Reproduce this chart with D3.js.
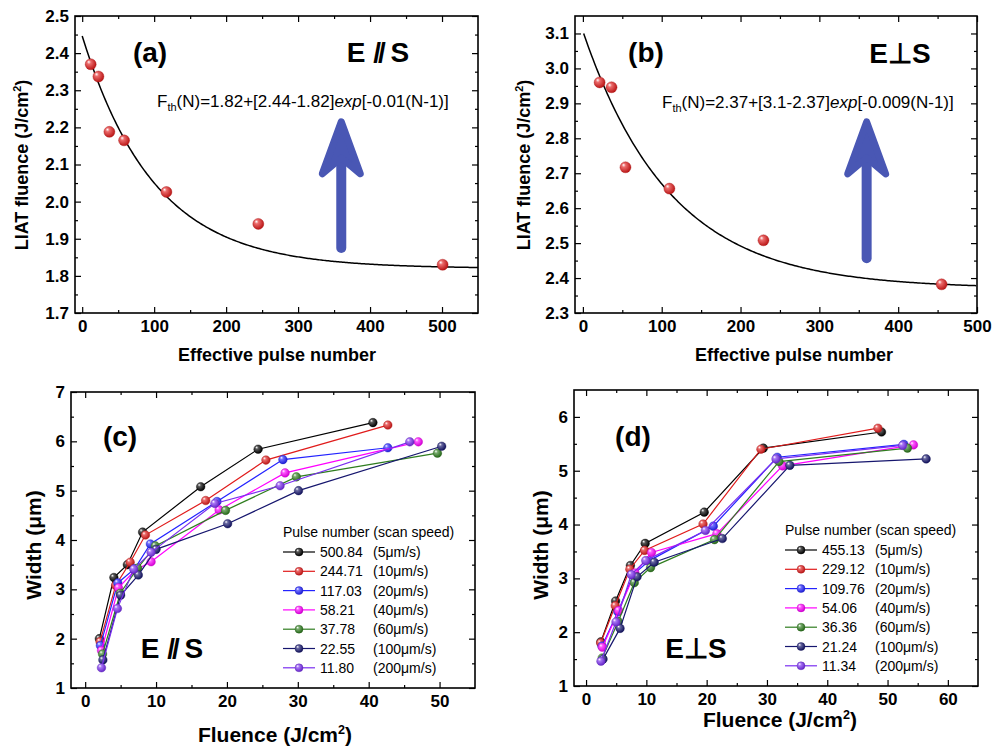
<!DOCTYPE html>
<meta charset="utf-8">
<style>
body { margin: 0; background: #fff; }
svg { font-family: "Liberation Sans", Arial, sans-serif; background: #fff; }
.axis path { display: none; }
.axis .tick line { stroke: #000; stroke-width: 1.2; }
.axis .tick text { font-weight: bold; font-size: 17px; fill: #000; }
.frame { fill: none; stroke: #000; stroke-width: 1.6; }
.title { font-weight: bold; fill: #000; }
.legend text { font-size: 14px; fill: #000; }
</style>
<svg width="995" height="750"></svg>
<script src="https://cdn.jsdelivr.net/npm/d3@7"></script>
<script>

// ---- data ----
// (a) E // S threshold fluence vs effective pulse number
var pulseA = [11.80, 22.55, 37.78, 58.21, 117.03, 244.71, 500.84];
var liatA = [2.37, 2.337, 2.188, 2.165, 2.026, 1.94, 1.83];
var fitA = [1.82, 2.44, 0.01];      // F_inf, F_1, k
// (b) E perp S
var pulseB = [21.24, 36.36, 54.06, 109.76, 229.12, 455.13];
var liatB = [2.96, 2.946, 2.717, 2.656, 2.508, 2.382];
var fitB = [2.37, 3.1, 0.009];

// legend / series labels
var speeds = ["5", "10", "20", "40", "60", "100", "200"];
var pulsesC = ["500.84", "244.71", "117.03", "58.21", "37.78", "22.55", "11.80"];
var pulsesD = ["455.13", "229.12", "109.76", "54.06", "36.36", "21.24", "11.34"];
var seriesColors = ["#000000", "#e01b1b", "#2323ff", "#ff00ff", "#2f7d1f", "#16166e", "#7a2ef0"];

// (c) width vs fluence, E // S  (one row per scan speed)
var fluenceC = [
    [2.0, 4.05, 5.95, 8.1, 16.3, 24.4, 40.6],
    [2.1, 4.3, 6.35, 8.5, 17.0, 25.5, 42.7],
    [2.15, 4.6, 7.0, 9.2, 18.6, 27.9, 42.7],
    [2.3, 4.7, 7.0, 9.3, 18.9, 28.2, 47.0],
    [2.45, 4.95, 7.4, 9.9, 19.8, 29.8, 49.7],
    [2.5, 5.0, 7.5, 10.0, 20.1, 30.1, 50.3],
    [2.3, 4.55, 6.85, 9.3, 18.3, 27.5, 45.8]
];
var widthC = [
    [2.0, 3.24, 3.5, 4.16, 5.08, 5.84, 6.38],
    [1.94, 3.08, 3.55, 4.1, 4.8, 5.62, 6.33],
    [1.86, 3.13, 3.42, 3.92, 4.78, 5.63, 5.87],
    [1.76, 3.03, 3.38, 3.56, 4.61, 5.36, 5.99],
    [1.69, 2.92, 3.43, 3.88, 4.6, 5.28, 5.76],
    [1.57, 2.88, 3.29, 3.81, 4.33, 5.0, 5.9],
    [1.41, 2.61, 3.41, 3.75, 4.74, 5.1, 5.99]
];
// (d) width vs fluence, E perp S
var fluenceD = [
    [2.45, 4.9, 7.35, 9.8, 19.6, 29.4, 49.0],
    [2.42, 4.84, 7.26, 9.7, 19.4, 29.0, 48.4],
    [2.64, 5.27, 7.9, 10.5, 21.1, 31.7, 52.7],
    [2.71, 5.4, 8.1, 10.85, 21.7, 32.6, 54.3],
    [2.67, 5.33, 8.0, 10.7, 21.3, 32.0, 53.3],
    [2.82, 5.64, 8.46, 11.3, 22.6, 33.8, 56.4],
    [2.47, 4.96, 7.5, 9.9, 19.8, 31.5, 52.5]
];
var widthD = [
    [1.82, 2.58, 3.24, 3.65, 4.23, 5.42, 5.72],
    [1.80, 2.49, 3.17, 3.52, 4.01, 5.40, 5.79],
    [1.74, 2.38, 3.08, 3.33, 3.97, 5.25, 5.49],
    [1.72, 2.40, 3.10, 3.48, 3.83, 5.09, 5.48],
    [1.52, 2.20, 2.92, 3.20, 3.72, 5.17, 5.42],
    [1.50, 2.07, 3.03, 3.30, 3.74, 5.10, 5.22],
    [1.46, 2.19, 3.07, 3.33, 3.89, 5.22, 5.47]
];

// tick labels
var ticksAx = [0, 100, 200, 300, 400, 500];
var ticksAy = [1.7, 1.8, 1.9, 2.0, 2.1, 2.2, 2.3, 2.4, 2.5];
var ticksBy = [2.3, 2.4, 2.5, 2.6, 2.7, 2.8, 2.9, 3.0, 3.1];
var ticksCx = [0, 10, 20, 30, 40, 50];
var ticksCy = [1, 2, 3, 4, 5, 6, 7];
var ticksDx = [0, 10, 20, 30, 40, 50, 60];
var ticksDy = [1, 2, 3, 4, 5, 6];

// ---- drawing ----
var svg = d3.select("svg");
var defs = svg.append("defs");

seriesColors.forEach(function(c, i) {
    var gr = defs.append("radialGradient").attr("id", "ball" + i)
        .attr("cx", "0.4").attr("cy", "0.4").attr("r", "0.6")
        .attr("fx", "0.32").attr("fy", "0.28");
    gr.append("stop").attr("offset", "0").attr("stop-color", "#fff");
    gr.append("stop").attr("offset", "0.3").attr("stop-color", d3.interpolateRgb(c, "#fff")(0.35));
    gr.append("stop").attr("offset", "1").attr("stop-color", d3.color(c).darker(0.5));
});

function minors(ticks, dom) {
    var step = ticks[1] - ticks[0];
    return d3.range(ticks[0] - step / 2, dom[1], step)
        .filter(function(v) { return v > dom[0] + 1e-9 && v < dom[1] - 1e-9; });
}

function panel(p) {
    var x = d3.scaleLinear().domain(p.xDom).range([p.left, p.right]);
    var y = d3.scaleLinear().domain(p.yDom).range([p.bottom, p.top]);
    var g = svg.append("g");
    var xm = minors(p.xTicks, p.xDom), ym = minors(p.yTicks, p.yDom);

    g.append("g").attr("class", "axis").attr("transform", "translate(0," + p.bottom + ")")
        .call(d3.axisBottom(x).tickValues(p.xTicks).tickSize(-6).tickSizeOuter(0).tickPadding(7).tickFormat(p.xFmt));
    g.append("g").attr("class", "axis").attr("transform", "translate(0," + p.bottom + ")")
        .call(d3.axisBottom(x).tickValues(xm).tickSize(-3).tickSizeOuter(0).tickFormat(""));
    g.append("g").attr("class", "axis").attr("transform", "translate(0," + p.top + ")")
        .call(d3.axisTop(x).tickValues(p.xTicks).tickSize(-6).tickSizeOuter(0).tickFormat(""));
    g.append("g").attr("class", "axis").attr("transform", "translate(0," + p.top + ")")
        .call(d3.axisTop(x).tickValues(xm).tickSize(-3).tickSizeOuter(0).tickFormat(""));

    g.append("g").attr("class", "axis").attr("transform", "translate(" + p.left + ",0)")
        .call(d3.axisLeft(y).tickValues(p.yTicks).tickSize(-6).tickSizeOuter(0).tickPadding(6).tickFormat(p.yFmt));
    g.append("g").attr("class", "axis").attr("transform", "translate(" + p.left + ",0)")
        .call(d3.axisLeft(y).tickValues(ym).tickSize(-3).tickSizeOuter(0).tickFormat(""));
    g.append("g").attr("class", "axis").attr("transform", "translate(" + p.right + ",0)")
        .call(d3.axisRight(y).tickValues(p.yTicks).tickSize(-6).tickSizeOuter(0).tickFormat(""));
    g.append("g").attr("class", "axis").attr("transform", "translate(" + p.right + ",0)")
        .call(d3.axisRight(y).tickValues(ym).tickSize(-3).tickSizeOuter(0).tickFormat(""));

    g.append("rect").attr("class", "frame")
        .attr("x", p.left).attr("y", p.top)
        .attr("width", p.right - p.left).attr("height", p.bottom - p.top);
    return { g: g, x: x, y: y };
}

function ball(g, cx, cy, r, i) {
    g.append("circle").attr("cx", cx).attr("cy", cy).attr("r", r)
        .attr("fill", "url(#ball" + i + ")")
        .attr("stroke", d3.color(seriesColors[i]).darker(0.8)).attr("stroke-width", 0.4);
}

// text with optional "²)" ending
function title(x, y, size, txt, sup, rotate) {
    var t = svg.append("text").attr("class", "title")
        .attr("text-anchor", "middle").attr("font-size", size);
    if (rotate) t.attr("transform", "translate(" + x + "," + y + ") rotate(-90)").attr("dy", "0.36em");
    else t.attr("x", x).attr("y", y);
    t.append("tspan").text(txt);
    if (sup) {
        t.append("tspan").attr("font-size", size * 0.6).attr("dy", -size * 0.4).text("2");
        t.append("tspan").attr("dy", size * 0.4).text(")");
    }
}

function formula(x, y, f) {
    var t = svg.append("text").attr("x", x).attr("y", y).attr("font-size", 17).attr("fill", "#000");
    t.append("tspan").text("F");
    t.append("tspan").attr("font-size", 11).attr("dy", 4).text("th");
    t.append("tspan").attr("dy", -4).text("(N)=" + f[0] + "+[" + f[1] + "-" + f[0] + "]");
    t.append("tspan").attr("font-style", "italic").text("exp");
    t.append("tspan").text("[-" + f[2] + "(N-1)]");
}

function arrow(g, x, y0, y1) {
    var col = "#4957b4";
    g.append("line").attr("x1", x).attr("x2", x).attr("y1", y0).attr("y2", y1 + 10)
        .attr("stroke", col).attr("stroke-width", 10).attr("stroke-linecap", "round");
    g.append("path")
        .attr("d", "M" + x + "," + y1 + " L" + (x + 19) + "," + (y1 + 52) +
            " L" + x + "," + (y1 + 36) + " L" + (x - 19) + "," + (y1 + 52) + " Z")
        .attr("fill", col).attr("stroke", col).attr("stroke-width", 7).attr("stroke-linejoin", "round");
}

function tag(x, y, size, txt) {
    svg.append("text").attr("class", "title").attr("x", x).attr("y", y)
        .attr("text-anchor", "middle").attr("font-size", size).text(txt);
}

function paraTag(x, y) {
    var t = svg.append("text").attr("class", "title").attr("x", x).attr("y", y)
        .attr("text-anchor", "middle").attr("font-size", 28);
    t.append("tspan").text("E ");
    t.append("tspan").attr("letter-spacing", "-3").text("//");
    t.append("tspan").text("  S");
}

function fitLine(pan, f, n0, n1) {
    var pts = d3.range(n0, n1 + 1, 2).map(function(n) { return [n, f[0] + (f[1] - f[0]) * Math.exp(-f[2] * (n - 1))]; });
    pan.g.append("path").datum(pts)
        .attr("d", d3.line().x(function(d) { return pan.x(d[0]); }).y(function(d) { return pan.y(d[1]); }))
        .attr("fill", "none").attr("stroke", "#000").attr("stroke-width", 1.5);
}

// ---- panel (a) ----
var pa = panel({ left: 75, right: 478, top: 16, bottom: 313, xDom: [-10, 550], yDom: [1.7, 2.5],
    xTicks: ticksAx, yTicks: ticksAy, xFmt: d3.format("d"), yFmt: d3.format(".1f") });
fitLine(pa, fitA, 0, 550);
pulseA.forEach(function(n, i) { ball(pa.g, pa.x(n), pa.y(liatA[i]), 5.5, 1); });
arrow(pa.g, pa.x(360), pa.y(1.875), pa.y(2.215));
tag(150, 62, 28, "(a)");
paraTag(378, 62);
formula(157, 107, fitA);
title(22, 165, 18, "LIAT fluence (J/cm", true, true);
title(277, 361, 18, "Effective pulse number", false, false);

// ---- panel (b) ----
var pb = panel({ left: 575, right: 977, top: 16, bottom: 313, xDom: [-10, 500], yDom: [2.3, 3.15],
    xTicks: ticksAx, yTicks: ticksBy, xFmt: d3.format("d"), yFmt: d3.format(".1f") });
fitLine(pb, fitB, 1, 500);
pulseB.forEach(function(n, i) { ball(pb.g, pb.x(n), pb.y(liatB[i]), 5.5, 1); });
arrow(pb.g, pb.x(360), pb.y(2.457), pb.y(2.847));
tag(646, 62, 28, "(b)");
tag(900, 63, 28, "E\u22a5S");
formula(662, 108, fitB);
title(524, 165, 18, "LIAT fluence (J/cm", true, true);
title(794, 361, 18, "Effective pulse number", false, false);

// ---- panels (c), (d) ----
function widthPanel(p, fl, wd, pulses, lx, ly) {
    var pan = panel(p);
    var line = d3.line().x(function(d) { return pan.x(d[0]); }).y(function(d) { return pan.y(d[1]); });
    fl.forEach(function(xs, i) {
        var pts = xs.map(function(v, j) { return [v, wd[i][j]]; });
        pan.g.append("path").datum(pts).attr("d", line)
            .attr("fill", "none").attr("stroke", seriesColors[i]).attr("stroke-width", 1.2);
        pts.forEach(function(d) { ball(pan.g, pan.x(d[0]), pan.y(d[1]), 4.3, i); });
    });
    var lg = svg.append("g").attr("class", "legend");
    lg.append("text").attr("x", lx).attr("y", ly).text("Pulse number (scan speed)");
    pulses.forEach(function(s, i) {
        var yy = ly + 15 + i * 19.3;
        lg.append("line").attr("x1", lx).attr("x2", lx + 32).attr("y1", yy).attr("y2", yy)
            .attr("stroke", seriesColors[i]).attr("stroke-width", 1.2);
        ball(lg, lx + 16, yy, 4, i);
        lg.append("text").attr("x", lx + 37).attr("y", yy + 5).text(s);
        lg.append("text").attr("x", lx + 90).attr("y", yy + 5).text("(" + speeds[i] + "\u03bcm/s)");
    });
    return pan;
}

widthPanel({ left: 71, right: 475, top: 392, bottom: 688, xDom: [-2, 55], yDom: [1, 7],
    xTicks: ticksCx, yTicks: ticksCy, xFmt: d3.format("d"), yFmt: d3.format("d") },
    fluenceC, widthC, pulsesC, 283, 537);
tag(120, 446, 28, "(c)");
paraTag(172, 658);
title(33, 545, 21, "Width (\u03bcm)", false, true);
title(275, 742, 21, "Fluence (J/cm", true, false);

widthPanel({ left: 574, right: 978, top: 390, bottom: 686, xDom: [-2, 65], yDom: [1, 6.5],
    xTicks: ticksDx, yTicks: ticksDy, xFmt: d3.format("d"), yFmt: d3.format("d") },
    fluenceD, widthD, pulsesD, 785, 535);
tag(633, 446, 28, "(d)");
tag(696, 658, 28, "E\u22a5S");
title(540, 545, 21, "Width (\u03bcm)", false, true);
title(780, 727, 21, "Fluence (J/cm", true, false);

</script>
